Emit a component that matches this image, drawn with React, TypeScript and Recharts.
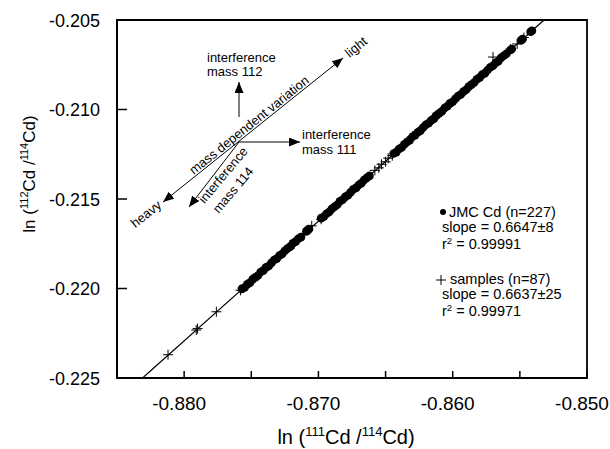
import { ScatterChart, Scatter, XAxis, YAxis, ReferenceLine, ReferenceArea } from 'recharts';

// JMC Cd standard runs (filled circles)
const jmcX = [
  -0.8757, -0.8755, -0.8753, -0.8751, -0.8749, -0.8747, -0.8745, -0.8743, -0.8741, -0.8739, -0.8737, -0.8735,
  -0.8733, -0.8731, -0.8729, -0.8727, -0.8725, -0.8723, -0.8721, -0.8719, -0.8717, -0.8715, -0.8713,
  -0.8709, -0.8708, -0.8707,
  -0.8698, -0.8696, -0.8694, -0.8692, -0.869, -0.8688, -0.8686, -0.8684, -0.8682, -0.868, -0.8678, -0.8676,
  -0.8674, -0.8672, -0.867, -0.8668, -0.8666, -0.8664, -0.8662,
  -0.8644, -0.8642, -0.864, -0.8638, -0.8636, -0.8634, -0.8632, -0.863, -0.8628, -0.8626, -0.8624, -0.8622,
  -0.862, -0.8618, -0.8616, -0.8614, -0.8612, -0.861, -0.8608, -0.8606, -0.8604, -0.8602, -0.86, -0.8598,
  -0.8596, -0.8594, -0.8592, -0.859, -0.8588, -0.8586, -0.8584, -0.8582, -0.858, -0.8578, -0.8576, -0.8574,
  -0.8572, -0.857, -0.8568, -0.8566, -0.8564, -0.8562, -0.856,
  -0.8557, -0.8556, -0.8549, -0.8548, -0.8542, -0.8541,
];
const jmcY = [
  -0.22002, -0.21994, -0.21977, -0.21968, -0.21949, -0.21938, -0.21927, -0.21908, -0.21899, -0.21882, -0.21874, -0.21857,
  -0.21841, -0.21833, -0.21816, -0.21807, -0.21789, -0.21777, -0.21766, -0.21747, -0.21738, -0.21722, -0.21713,
  -0.21681, -0.21674, -0.21668,
  -0.21607, -0.21599, -0.21582, -0.21573, -0.21555, -0.21543, -0.21532, -0.21513, -0.21504, -0.21488, -0.21479, -0.21462,
  -0.21446, -0.21438, -0.21422, -0.21412, -0.21394, -0.21382, -0.21371,
  -0.21246, -0.21238, -0.21221, -0.21212, -0.21194, -0.21182, -0.21171, -0.21152, -0.21143, -0.21127, -0.21118, -0.21101,
  -0.21085, -0.21077, -0.21061, -0.21051, -0.21033, -0.21021, -0.2101, -0.20992, -0.20982, -0.20966, -0.20957, -0.2094,
  -0.20925, -0.20916, -0.209, -0.2089, -0.20872, -0.20861, -0.20849, -0.20831, -0.20822, -0.20805, -0.20797, -0.20779,
  -0.20764, -0.20756, -0.20739, -0.2073, -0.20711, -0.207, -0.20689,
  -0.20668, -0.20662, -0.20613, -0.20607, -0.20566, -0.2056,
];

// samples (crosses)
const sampleX = [
  -0.8812, -0.8791, -0.879, -0.8776, -0.8758, -0.875, -0.874, -0.8725, -0.8718, -0.8705, -0.8698, -0.8685, -0.867,
  -0.8658, -0.8655, -0.8653, -0.865, -0.8648, -0.8645, -0.863, -0.8615, -0.8604, -0.859, -0.857, -0.8566, -0.8557,
  -0.8552, -0.8547,
];
const sampleY = [
  -0.2237, -0.22232, -0.22224, -0.2213, -0.2201, -0.21953, -0.21895, -0.21788, -0.2175, -0.2165, -0.21613, -0.2152, -0.2142,
  -0.2134, -0.21326, -0.21306, -0.21292, -0.21272, -0.21258, -0.2115, -0.2105, -0.20975, -0.20885, -0.20707, -0.2073, -0.20662,
  -0.20634, -0.20598,
];

// regression line end points
const fitX = [-0.8831, -0.8532];
const fitY = [-0.225, -0.205];

const xTicks = [-0.88, -0.875, -0.87, -0.865, -0.86, -0.855, -0.85];
const xLabelTicks = [-0.88, -0.87, -0.86, -0.85];
const yTicks = [-0.225, -0.22, -0.215, -0.21, -0.205];

const jmc = jmcX.map((x, i) => ({ x, y: jmcY[i] }));
const samples = sampleX.map((x, i) => ({ x, y: sampleY[i] }));

const FONT = '"Liberation Sans", Arial, sans-serif';

const XTick = (props: any) => {
  const { x, y, payload } = props;
  const v = payload.value as number;
  const labelled = xLabelTicks.some((t) => Math.abs(t - v) < 1e-9);
  return (
    <g>
      <line x1={x} y1={y} x2={x} y2={y - 7} stroke="#000" strokeWidth={1.5} />
      {labelled && (
        <text x={x - 5} y={y + 32} textAnchor="middle" fontSize={19} fill="#000" fontFamily={FONT}>
          {v.toFixed(3)}
        </text>
      )}
    </g>
  );
};

const YTick = (props: any) => {
  const { x, y, payload } = props;
  const v = payload.value as number;
  return (
    <g>
      <line x1={x} y1={y} x2={x + 10} y2={y} stroke="#000" strokeWidth={1.5} />
      <text x={x - 17} y={y + 6.5} textAnchor="end" fontSize={18} fill="#000" fontFamily={FONT}>
        {v.toFixed(3)}
      </text>
    </g>
  );
};

const Dot = (p: any) => <circle cx={p.cx} cy={p.cy} r={4.3} fill="#000" />;
const Cross = (p: any) => (
  <path
    d={`M${p.cx - 5},${p.cy}H${p.cx + 5}M${p.cx},${p.cy - 5}V${p.cy + 5}`}
    stroke="#000"
    strokeWidth={1}
    fill="none"
  />
);

export default function App() {
  return (
    <div style={{ position: 'absolute', left: 0, top: 0, width: 610, height: 449, background: '#fff', fontFamily: FONT }}>
      <ScatterChart width={610} height={449} margin={{ top: 20, right: 23, bottom: 31, left: 57 }}>
        <XAxis
          type="number"
          dataKey="x"
          domain={[-0.885, -0.85]}
          allowDataOverflow
          ticks={xTicks}
          interval={0}
          tickSize={0}
          tickMargin={0}
          tickLine={false}
          axisLine={{ stroke: '#000', strokeWidth: 1.8 }}
          tick={<XTick />}
          height={40}
        />
        <YAxis
          type="number"
          dataKey="y"
          domain={[-0.225, -0.205]}
          allowDataOverflow
          ticks={yTicks}
          interval={0}
          tickSize={0}
          tickMargin={0}
          tickLine={false}
          axisLine={{ stroke: '#000', strokeWidth: 1.8 }}
          tick={<YTick />}
          width={60}
        />
        <ReferenceArea
          x1={-0.885}
          x2={-0.85}
          y1={-0.225}
          y2={-0.205}
          fill="none"
          stroke="#000"
          strokeWidth={1.8}
        />
        <ReferenceLine
          segment={[
            { x: fitX[0], y: fitY[0] },
            { x: fitX[1], y: fitY[1] },
          ]}
          stroke="#000"
          strokeWidth={1.2}
        />
        <Scatter name="JMC Cd" data={jmc} shape={<Dot />} isAnimationActive={false} />
        <Scatter name="samples" data={samples} shape={<Cross />} isAnimationActive={false} />
      </ScatterChart>

      <svg
        width={610}
        height={449}
        style={{ position: 'absolute', left: 0, top: 0, pointerEvents: 'none' }}
        fontFamily={FONT}
      >
        <defs>
          <marker
            id="ah"
            viewBox="0 0 11 9"
            refX={11}
            refY={4.5}
            markerWidth={11}
            markerHeight={9}
            markerUnits="userSpaceOnUse"
            orient="auto-start-reverse"
          >
            <path d="M0,0 L11,4.5 L0,9 z" fill="#000" />
          </marker>
        </defs>

        {/* annotation arrows */}
        <line x1={163} y1={202} x2={343} y2={58} stroke="#000" strokeWidth={1} markerStart="url(#ah)" markerEnd="url(#ah)" />
        <line x1={239} y1={117} x2={239} y2={82} stroke="#000" strokeWidth={1} markerEnd="url(#ah)" />
        <line x1={239} y1={142} x2={300} y2={142} stroke="#000" strokeWidth={1} markerEnd="url(#ah)" />
        <line x1={239} y1={142} x2={189} y2={207} stroke="#000" strokeWidth={1} markerEnd="url(#ah)" />

        <g fontSize={13} fill="#000">
          <text x={207} y={62}>interference</text>
          <text x={207} y={76}>mass 112</text>
          <text x={302} y={139}>interference</text>
          <text x={302} y={154}>mass 111</text>
          <text transform="translate(249,125) rotate(-38.7)" textAnchor="middle" dominantBaseline="central">
            mass dependent variation
          </text>
          <text transform="translate(356,47) rotate(-38.7)" textAnchor="middle" dominantBaseline="central">
            light
          </text>
          <text transform="translate(146,214) rotate(-38.7)" textAnchor="middle" dominantBaseline="central">
            heavy
          </text>
          <text transform="translate(223,175) rotate(-50)" textAnchor="middle" dominantBaseline="central">
            interference
          </text>
          <text transform="translate(233,190) rotate(-50)" textAnchor="middle" dominantBaseline="central">
            mass 114
          </text>
        </g>

        {/* legend */}
        <g fontSize={14.5} fill="#000">
          <circle cx={443} cy={212} r={3} fill="#000" />
          <text x={449} y={217}>JMC Cd (n=227)</text>
          <text x={442} y={232}>slope = 0.6647±8</text>
          <text x={442} y={248.5}>
            r<tspan fontSize={9.5} dy={-5}>2</tspan>
            <tspan dy={5}> = 0.99991</tspan>
          </text>
          <path d="M436,280H446M441,275V285" stroke="#000" strokeWidth={1} />
          <text x={450} y={284}>samples (n=87)</text>
          <text x={442} y={299}>slope = 0.6637±25</text>
          <text x={442} y={315.5}>
            r<tspan fontSize={9.5} dy={-5}>2</tspan>
            <tspan dy={5}> = 0.99971</tspan>
          </text>
        </g>

        {/* axis titles */}
        <text x={346} y={444} textAnchor="middle" fontSize={20} fill="#000">
          ln (<tspan fontSize={13} dy={-8}>111</tspan>
          <tspan dy={8}>Cd /</tspan>
          <tspan fontSize={13} dy={-8}>114</tspan>
          <tspan dy={8}>Cd)</tspan>
        </text>
        <text transform="translate(35,174) rotate(-90)" textAnchor="middle" fontSize={17} fill="#000">
          ln (<tspan fontSize={11} dy={-7}>112</tspan>
          <tspan dy={7}>Cd /</tspan>
          <tspan fontSize={11} dy={-7}>114</tspan>
          <tspan dy={7}>Cd)</tspan>
        </text>
      </svg>
    </div>
  );
}
